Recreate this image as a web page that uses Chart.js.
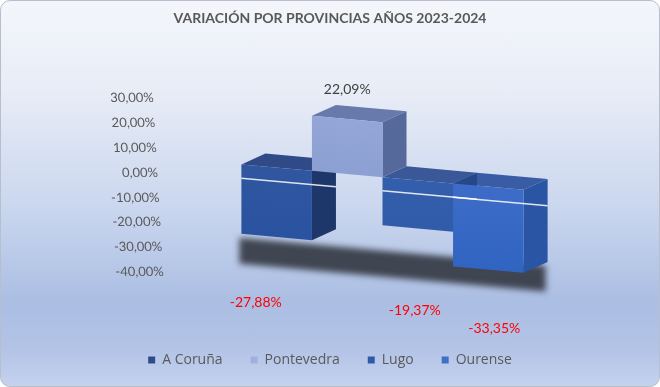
<!DOCTYPE html>
<html>
<head>
<meta charset="utf-8">
<script src="https://cdn.jsdelivr.net/npm/chart.js@4.4.1/dist/chart.umd.min.js"></script>
<style>
  html, body { margin: 0; padding: 0; }
  body { width: 660px; height: 387px; overflow: hidden; background: #ffffff; }
  .frame {
    position: relative; width: 658px; height: 385px;
    border: 1px solid #b7bfcc; border-radius: 10px; overflow: hidden;
    background: linear-gradient(to bottom, #f4f6fb 0%, #e7ecf6 24%, #ccd8ef 52%, #abbee3 78%, #b2c3e6 90%, #c5d2ee 100%);
  }
  canvas { position: absolute; left: -1px; top: -1px; }
</style>
</head>
<body>
<div class="frame"><canvas id="chart" width="660" height="387"></canvas></div>
<script>
/* 3D looking column chart, one bar per province
   front faces are the chart.js bars, top/side faces + shadow come from the plugin
*/
const categories = ["2023-2024"];
const provinces = ["A Coruña", "Pontevedra", "Lugo", "Ourense"];
const variation = [-27.88, 22.09, -19.37, -33.35];
const yTicks = [-40, -30, -20, -10, 0, 10, 20, 30];

const frontTop = ["#385aa0", "#96a8d8", "#3862ad", "#4674cd"];
const frontBottom = ["#2651a0", "#8195cc", "#2c59a8", "#2f62c0"];
const sideColors = ["#1e376a", "#56699b", "#244888", "#2a55a4"];
const topColors = ["#2f4a86", "#6879ab", "#3a5797", "#3a5ca4"];
const legendColors = ["#2c4c8c", "#9fb0dc", "#2f5aa8", "#3f6fc6"];

const gray = "#595959";
const font = "Lato";

// fake perspective: everything in the plot leans down to the right
const skewK = 0.09;
const skewC = 4.7;
const depthX = 24;
const depthY = -13;
const axisLean = 0.0575;

function fmt(v) {
    return v.toFixed(2).replace(".", ",") + "%";
}

function skewY(chart, x, y) {
    const a = chart.chartArea;
    return y + skewK * (x - (a.left + a.right) / 2) + skewC;
}

function barBoxes(chart) {
    return chart.data.datasets.map((d, i) => {
        const el = chart.getDatasetMeta(i).data[0];
        const p = el.getProps(["x", "y", "base", "width"], true);
        return {
            x: p.x,
            y: p.y,
            left: p.x - p.width / 2,
            right: p.x + p.width / 2,
            top: Math.min(p.y, p.base),
            bottom: Math.max(p.y, p.base)
        };
    });
}

function poly(ctx, pts, color) {
    ctx.beginPath();
    ctx.moveTo(pts[0][0], pts[0][1]);
    for (let i = 1; i < pts.length; i++) ctx.lineTo(pts[i][0], pts[i][1]);
    ctx.closePath();
    ctx.fillStyle = color;
    ctx.fill();
}

const box3d = {
    id: "box3d",
    beforeDraw(chart) {
        // y labels follow the leaning back wall
        const s = chart.scales.y;
        if (s._leaning) return;
        const orig = s.drawLabels;
        s.drawLabels = function(area) {
            const c = this.ctx;
            const y0 = this.getPixelForValue(0);
            c.save();
            c.transform(1, 0, axisLean, 1, -axisLean * y0, 0);
            orig.call(this, area);
            c.restore();
        };
        s._leaning = true;
    },
    beforeDatasetsDraw(chart) {
        const ctx = chart.ctx;
        const a = chart.chartArea;
        const ys = chart.scales.y;
        const cx = (a.left + a.right) / 2;
        const bars = barBoxes(chart);

        ctx.save();
        ctx.transform(1, skewK, 0, 1, 0, skewC - skewK * cx);

        // floor shadow
        const floor = ys.getPixelForValue(ys.min);
        const first = bars[0];
        const last = bars[bars.length - 1];
        ctx.save();
        ctx.filter = "blur(3px)";
        ctx.fillStyle = "rgba(50,54,64,0.9)";
        ctx.fillRect(first.left - 2, floor - 26, last.right + depthX - first.left, 26);
        ctx.restore();

        // top and side faces, far bars first
        for (let i = bars.length - 1; i >= 0; i--) {
            const b = bars[i];
            poly(ctx, [[b.left, b.top], [b.left + depthX, b.top + depthY],
                [b.right + depthX, b.top + depthY], [b.right, b.top]], topColors[i]);
            poly(ctx, [[b.right, b.top], [b.right + depthX, b.top + depthY],
                [b.right + depthX, b.bottom + depthY], [b.right, b.bottom]], sideColors[i]);
        }
    },
    afterDatasetsDraw(chart) {
        const ctx = chart.ctx;
        const ys = chart.scales.y;
        const bars = barBoxes(chart);
        const ly = ys.getPixelForValue(-5.5);
        ctx.strokeStyle = "rgba(255,255,255,0.85)";
        ctx.lineWidth = 1.5;
        bars.forEach((b, i) => {
            if (variation[i] >= 0) return;
            ctx.beginPath();
            ctx.moveTo(b.left, ly);
            ctx.lineTo(b.right + depthX, ly);
            ctx.stroke();
        });
        ctx.restore();
    },
    afterDraw(chart) {
        const ctx = chart.ctx;
        const a = chart.chartArea;
        const ys = chart.scales.y;
        const cx = (a.left + a.right) / 2;
        const floor = ys.getPixelForValue(ys.min);
        const bars = barBoxes(chart);
        ctx.save();
        ctx.font = "14px " + font;
        ctx.textAlign = "center";
        ctx.textBaseline = "middle";
        bars.forEach((b, i) => {
            const v = variation[i];
            if (v >= 0) {
                ctx.fillStyle = "#404040";
                ctx.fillText(fmt(v), b.x, skewY(chart, b.x, b.y) - 30);
            } else {
                const lx = b.x + 0.127 * (b.x - cx) - 7.5;
                const base = (ys.getPixelForValue(v) + 2 * floor) / 3;
                ctx.fillStyle = "#ff0000";
                ctx.fillText(fmt(v), lx, skewY(chart, lx, base) + 47.5);
            }
        });
        ctx.restore();
    }
};

// legend needs wide gaps between items but a short box
const legendBox = {
    id: "legendBox",
    afterInit(chart) {
        const lg = chart.legend;
        if (!lg) return;
        lg.fit = function() {
            Object.getPrototypeOf(this).fit.call(this);
            this.height = 62;
        };
    }
};

function frontFill(i) {
    return function(c) {
        const a = c.chart.chartArea;
        if (!a) return frontTop[i];
        const g = c.chart.ctx.createLinearGradient(0, a.top, 0, a.bottom);
        g.addColorStop(0, frontTop[i]);
        g.addColorStop(1, frontBottom[i]);
        return g;
    };
}

const ctx = document.getElementById("chart").getContext("2d");
const chart = new Chart(ctx, {
    type: "bar",
    data: {
        labels: categories,
        datasets: provinces.map((p, i) => ({
            label: p,
            data: [variation[i]],
            backgroundColor: frontFill(i),
            borderWidth: 0,
            clip: false
        }))
    },
    options: {
        responsive: false,
        devicePixelRatio: 1,
        animation: false,
        events: [],
        layout: { padding: 0 },
        categoryPercentage: 0.68,
        barPercentage: 1,
        scales: {
            x: {
                grid: { display: false },
                border: { display: false },
                ticks: { display: false },
                afterFit: s => { s.height = 53; }
            },
            y: {
                min: -40,
                max: 30,
                grid: { display: false },
                border: { display: false },
                afterBuildTicks: s => { s.ticks = yTicks.map(v => ({ value: v })); },
                ticks: {
                    callback: v => fmt(v),
                    color: gray,
                    padding: 9,
                    font: { family: font, size: 13 }
                },
                afterFit: s => { s.width = 175; }
            },
            yRight: {
                position: "right",
                grid: { display: false },
                border: { display: false },
                ticks: { display: false },
                afterFit: s => { s.width = 70; }
            }
        },
        plugins: {
            tooltip: { enabled: false },
            title: {
                display: true,
                text: "VARIACIÓN POR PROVINCIAS AÑOS 2023-2024",
                color: gray,
                font: { family: font, size: 14, weight: "bold" },
                padding: { top: 10, bottom: 71 }
            },
            legend: {
                position: "bottom",
                labels: {
                    boxWidth: 7,
                    boxHeight: 7,
                    padding: 28,
                    color: gray,
                    font: { family: "Open Sans", size: 14 },
                    generateLabels: () => provinces.map((p, i) => ({
                        text: p,
                        fillStyle: legendColors[i],
                        strokeStyle: legendColors[i],
                        lineWidth: 0,
                        hidden: false,
                        datasetIndex: i,
                        fontColor: gray
                    }))
                }
            }
        }
    },
    plugins: [box3d, legendBox]
});
</script>
</body>
</html>
